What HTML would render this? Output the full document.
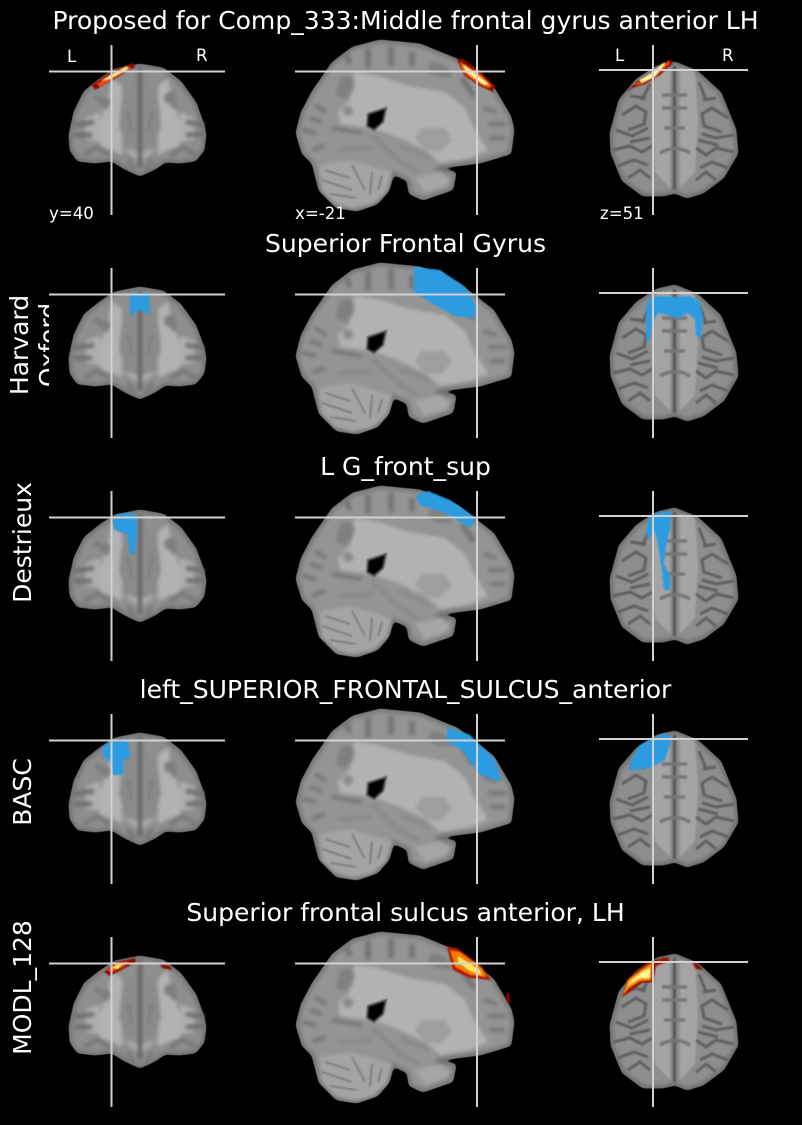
<!DOCTYPE html>
<html lang="en">
<head>
<meta charset="utf-8">
<title>Proposed for Comp_333</title>
<style>
html,body{margin:0;padding:0;background:#000;}
svg{display:block;}
text{font-family:"DejaVu Sans","Liberation Sans",sans-serif;fill:#fff;}
.title{font-size:25.06px;text-anchor:middle;}
.row{font-size:25px;text-anchor:middle;}
.ann{font-size:16.6px;}
.cross{stroke:#d2d2d2;stroke-width:2;fill:none;}
</style>
</head>
<body>
<svg xmlns="http://www.w3.org/2000/svg" width="802" height="1125" viewBox="0 0 802 1125">
<defs>
<filter id="round" x="-10%" y="-10%" width="120%" height="120%" color-interpolation-filters="sRGB"><feGaussianBlur stdDeviation="2"/><feComponentTransfer><feFuncA type="linear" slope="5" intercept="-2"/></feComponentTransfer></filter>
<filter id="b1" x="-10%" y="-10%" width="120%" height="120%" color-interpolation-filters="sRGB"><feGaussianBlur stdDeviation="1.8"/></filter>
<filter id="b0" x="-10%" y="-10%" width="120%" height="120%" color-interpolation-filters="sRGB"><feGaussianBlur stdDeviation="0.7"/></filter>
<clipPath id="label-clip"><rect x="0" y="280" width="49" height="130"/></clipPath>

<g id="coronal">
  <path filter="url(#round)" fill="#8e8e8e" stroke="#6e6e6e" stroke-width="3" d="M140 65L163 69L180 82L195 103L203 125L205 135L203 150L195 160L180 162L165 161L155 168L140 175L125 168L112 160L95 162L78 160L71 150L70 135L75 112L85 92L100 80L115 70Z"/>
  <g filter="url(#b1)">
    <path fill="#b2b2b2" d="M112 78L122 86L122 155L112 150L100 146L96 132L102 116L108 98ZM168 78L158 86L158 155L168 150L180 146L184 132L178 116L172 98Z"/>
    <path fill="#ababab" d="M122 148L140 162L158 148L150 150L140 152L130 150Z"/>
    <path fill="#aeaeae" d="M85 118L100 112L100 142L86 140ZM195 118L180 112L180 142L194 140Z"/>
    <path fill="#8a8a8a" d="M122 98L133 86L133 148L124 142L119 125ZM158 98L147 86L147 148L156 142L161 125Z"/>
    <path fill="none" stroke="#666" stroke-width="4.500" d="M140 68L140 168"/>
    <path fill="none" stroke="#787878" stroke-width="2" d="M128 112L132 132M152 112L148 132"/>
    <path fill="none" stroke="#707070" stroke-width="5" d="M74 125L94 122M74 135L92 135M186 122L204 125M186 135L204 134"/>
    <path fill="none" stroke="#787878" stroke-width="4.500" d="M96 96L108 108M172 92L174 108M84 155L98 147L110 156M196 155L182 147L170 156M128 160L134 170M152 160L146 170"/>
    <circle cx="170" cy="98" r="6" fill="#7e7e7e"/>
    <circle cx="106" cy="102" r="5" fill="#7e7e7e"/>
  </g>
</g>

<g id="sagittal">
  <path filter="url(#round)" fill="#949494" stroke="#707070" stroke-width="3" d="M380 41L420 45L457 60L493 88L510 117L513 130L510 153L480 162L440 167L437 170L455 173L452 189L423 199L410 193L408 180L393 173L388 190L377 203L357 210L337 207L320 190L313 163L303 153L297 133L302 113L313 92L333 63L353 48Z"/>
  <g filter="url(#b1)">
    <path fill="#b2b2b2" d="M355 72L378 76L410 86L445 92L465 108L474 128L488 150L470 158L440 163L425 150L400 138L372 128L340 124L338 112L350 100L352 85Z"/>
    <path fill="#9e9e9e" d="M422 128L445 128L452 140L440 152L425 150L415 138Z"/>
    <path fill="#808080" d="M340 78C352 72 358 82 352 92C348 100 340 100 336 94ZM430 62C445 60 452 72 452 78L436 76L428 72Z"/>
    <circle cx="348" cy="111" r="5" fill="#888"/>
    <path fill="none" stroke="#747474" stroke-width="5.500" d="M368 48L368 68M391 46L391 66M346 54L350 64M412 52L412 66M474 96L462 78"/>
    <path fill="none" stroke="#767676" stroke-width="4" d="M315 105L326 112M310 118L322 122M302 130L316 133M483 108L497 112M488 124L506 124M490 138L505 138M312 150L325 145"/>
    <path fill="none" stroke="#737373" stroke-width="3.500" d="M332 128L362 133"/>
    <path fill="none" stroke="#868686" stroke-width="3" d="M372 135L398 160L418 172M338 150L372 148M400 146L430 158"/>
    <path fill="#a4a4a4" d="M320 165L350 160L392 172L386 192L372 204L352 208L335 203L322 190Z"/>
    <path fill="#a6a6a6" d="M415 178L440 172L450 180L445 186L425 193Z"/>
  </g>
  <path filter="url(#b0)" fill="none" stroke="#7c7c7c" stroke-width="1.800" d="M325 170L350 178M322 180L352 190M330 194L356 198M352 165L365 190M372 172L370 195M382 176L378 190"/>
  <path filter="url(#b0)" fill="#000" stroke="#555" stroke-width="2" d="M368 114L386 108L383 122L374 130L367 126Z"/>
</g>

<g id="axial">
  <path filter="url(#round)" fill="#8e8e8e" stroke="#6a6a6a" stroke-width="3" d="M675 63L697 72L720 93L735 130L737 153L723 177L703 192L687 197L675 192L663 195L643 195L623 180L612 153L611 133L620 100L637 80L657 67Z"/>
  <g filter="url(#b0)">
    <path fill="#a4a4a4" d="M655 72L670 68L670 188L655 172L652 120ZM695 72L680 68L680 188L695 172L698 120Z"/>
    <path fill="none" stroke="#5a5a5a" stroke-width="3.500" d="M674.500 66L674.500 190"/>
    <path fill="none" stroke="#767676" stroke-width="3.500" d="M662 95L687 95M662 108L687 108M660 153C670 147 680 147 690 153M664 128L685 128"/>
    <path fill="none" stroke="#606060" stroke-width="3" d="M622 115L636 106L646 112L644 124L628 130M616 130L632 136L648 128M613 150L630 146L642 152L652 146M618 166L634 160L648 165M628 178L640 170L650 178M646 98L630 96M650 84L642 100M630 142L650 138"/>
    <path fill="none" stroke="#606060" stroke-width="3" d="M728 118L712 108L702 114L704 126L722 132M734 135L716 138L702 134M734 152L716 148L706 155L696 148M728 168L712 162L700 168M716 180L706 172L696 180M703 100L716 98M699 82L706 100M718 145L698 140"/>
  </g>
</g>
</defs>

<rect width="802" height="1125" fill="#000"/>

<text class="title" x="405.500" y="29">Proposed for Comp_333:Middle frontal gyrus anterior LH</text>

<g>
  <use href="#coronal"/>
  <use href="#sagittal"/>
  <use href="#axial"/>
  <g filter="url(#b0)">
    <path d="M92 85L112 71L134 63L135 67L116 78L95 90Z" fill="#8e0a00"/>
    <path d="M97 84L112 74L130 66L131 69L114 78L100 87Z" fill="#f04a0a"/>
    <path d="M101 81L110 75L127 66L128 69L110 79Z" fill="#fff59a"/>
    <path d="M457 59L463 59L480 71L495 86L493 92L478 85L464 75Z" fill="#8e0a00"/>
    <path d="M460 62L480 74L492 86L488 88L476 82L463 72Z" fill="#f26a0a"/>
    <path d="M463 64L489 84L484 85L466 72Z" fill="#fff59a"/>
    <path d="M626 92L640 79L652 73L671 59L672 64L660 75L645 84L632 88Z" fill="#7c0a00"/>
    <path d="M633 85L652 75L669 60L670 64L656 76L640 85Z" fill="#ec450a"/>
    <path d="M639 80L652 73L663 63L666 63L655 77L642 83Z" fill="#fff59a"/>
  </g>
  <g class="cross">
    <path d="M49 71.500H225M111.500 45V215"/>
    <path d="M295 71.500H505M477 45V215"/>
    <path d="M599 70H748M653 45V215"/>
  </g>
  <text class="ann" x="67" y="62">L</text>
  <text class="ann" x="196" y="61">R</text>
  <text class="ann" x="615" y="61">L</text>
  <text class="ann" x="722" y="61">R</text>
  <text class="ann" x="49" y="219">y=40</text>
  <text class="ann" x="295" y="219">x=-21</text>
  <text class="ann" x="600" y="219">z=51</text>
</g>

<text class="title" x="405.500" y="252">Superior Frontal Gyrus</text>
<g transform="translate(0 223)">
  <use href="#coronal"/>
  <use href="#sagittal"/>
  <use href="#axial"/>
  <g fill="#2c9be0" filter="url(#b0)">
    <path d="M130 70L135 69L140 73L145 69L149 70L150 92L143 88L137 88L130 93Z"/>
    <path d="M414 44L440 47L465 64L476 82L474 95L455 93L435 82L414 69Z"/>
    <path d="M646 83L650 75L660 73L675 74L690 73L700 79L703 95L701 116L696 112L695 96L688 90L678 96L668 92L658 90L652 100L649 121L646 115Z"/>
  </g>
  <g class="cross">
    <path d="M49 71.500H225M111.500 45V215"/>
    <path d="M295 71.500H505M477 45V215"/>
    <path d="M599 70H748M653 45V215"/>
  </g>
</g>

<text class="title" x="405.500" y="475">L G_front_sup</text>
<g transform="translate(0 446)">
  <use href="#coronal"/>
  <use href="#sagittal"/>
  <use href="#axial"/>
  <g fill="#2c9be0" filter="url(#b0)">
    <path d="M113 74L118 68L130 67L137 70L137 88L135 108L130 108L127 88L114 84Z"/>
    <path d="M415 50L428 45L450 54L476 72L470 82L445 67L420 59Z"/>
    <path d="M646 84L650 70L660 66L672 66L670 82L666 100L664 118L670 130L670 144L664 144L662 125L658 98L655 85L648 94Z"/>
  </g>
  <g class="cross">
    <path d="M49 71.500H225M111.500 45V215"/>
    <path d="M295 71.500H505M477 45V215"/>
    <path d="M599 70H748M653 45V215"/>
  </g>
</g>

<text class="title" x="405.500" y="698">left_SUPERIOR_FRONTAL_SULCUS_anterior</text>
<g transform="translate(0 669)">
  <use href="#coronal"/>
  <use href="#sagittal"/>
  <use href="#axial"/>
  <g fill="#2c9be0" filter="url(#b0)">
    <path d="M102 78L115 71L128 70L130 88L124 92L123 106L113 106L110 92L103 88Z"/>
    <path d="M447 58L470 66L495 91L502 113L480 106L462 81L447 73Z"/>
    <path d="M628 101L633 88L640 76L665 64L672 69L665 91L650 99L635 101Z"/>
  </g>
  <g class="cross">
    <path d="M49 71.500H225M111.500 45V215"/>
    <path d="M295 71.500H505M477 45V215"/>
    <path d="M599 70H748M653 45V215"/>
  </g>
</g>

<text class="title" x="405.500" y="921">Superior frontal sulcus anterior, LH</text>
<g transform="translate(0 892)">
  <use href="#coronal"/>
  <use href="#sagittal"/>
  <use href="#axial"/>
  <g filter="url(#b0)">
    <path d="M104 80L116 70L135 66L136 70L125 76L110 84Z" fill="#8e0a00"/>
    <path d="M107 78L116 72L128 69L125 74L112 80Z" fill="#f0520a"/>
    <path d="M111 76L118 72L123 72L118 77Z" fill="#ffe65a"/>
    <path d="M160 72L170 74L172 78L162 76Z" fill="#8e0a00"/>
    <path d="M447 55L457 56L480 73L491 88L470 86L453 78Z" fill="#b01400"/>
    <path d="M450 58L460 60L482 76L487 85L470 83L455 75Z" fill="#f57a0a"/>
    <path d="M458 64L480 78L482 84L468 78L458 70Z" fill="#ffe65a"/>
    <path d="M506 102L509 101L510 112L507 110Z" fill="#8e0a00"/>
    <path d="M622 105L627 88L640 76L653 68L668 65L670 69L656 74L653 90L642 91L630 100Z" fill="#a01000"/>
    <path d="M623 103L628 88L641 78L652 71L651 88L640 89L629 96Z" fill="#f59a0a"/>
    <path d="M627 94L632 88L642 80L650 76L650 86L640 86Z" fill="#fff59a"/>
    <path d="M692 70L698 72L703 78L696 77Z" fill="#8e0a00"/>
  </g>
  <g class="cross">
    <path d="M49 71.500H225M111.500 45V215"/>
    <path d="M295 71.500H505M477 45V215"/>
    <path d="M599 70H748M653 45V215"/>
  </g>
</g>

<g clip-path="url(#label-clip)">
  <text class="row" transform="translate(28 345) rotate(-90)">Harvard</text>
  <text class="row" transform="translate(57 345) rotate(-90)">Oxford</text>
</g>
<text class="row" transform="translate(31 542.500) rotate(-90)">Destrieux</text>
<text class="row" transform="translate(31 792) rotate(-90)">BASC</text>
<text class="row" transform="translate(31 987.500) rotate(-90)">MODL_128</text>
</svg>
</body>
</html>
